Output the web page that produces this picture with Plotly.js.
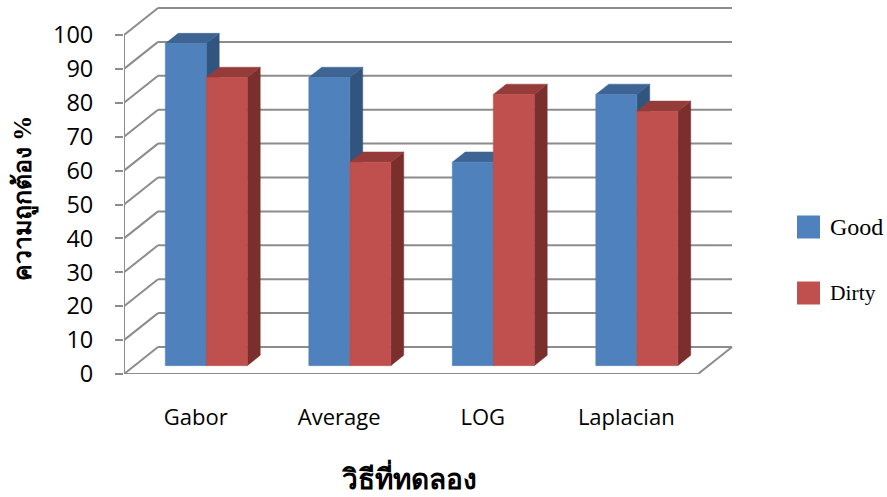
<!DOCTYPE html>
<html>
<head>
<meta charset="utf-8">
<script src="https://cdn.plot.ly/plotly-3.0.1.min.js"></script>
<style>
  html, body { margin: 0; padding: 0; background: #ffffff; }
  #chart { width: 887px; height: 497px; }
</style>
</head>
<body>
<div id="chart"></div>
<script>
// Accuracy of each detection method, clean vs. dirty samples (%)
const methods = ['Gabor', 'Average', 'LOG', 'Laplacian'];
const goodValues = [95, 85, 60, 80];
const dirtyValues = [85, 60, 80, 75];
const seriesNames = ['Good', 'Dirty'];
const yTickValues = [0, 10, 20, 30, 40, 50, 60, 70, 80, 90, 100];

// ---- geometry of the pseudo-3D box (axis units) ----
const W = 887, H = 497;
const M = { l: 124, r: 139, t: 5, b: 123 };
const PX_PER_CAT = 143.5;          // pixels per category slot
const PX_PER_UNIT = 3.39;          // pixels per percent
const plotW = W - M.l - M.r, plotH = H - M.t - M.b;
const X_MAX = plotW / PX_PER_CAT;
const Y_MAX = plotH / PX_PER_UNIT;
const DEPTH_X = 34 / PX_PER_CAT;   // receding offset of the back wall
const DEPTH_Y = 27 / PX_PER_UNIT;
const BAR_FRONT = 0.31, BAR_BACK = 0.69;  // bar depth as fraction of the box
const BAR_W = 1 / 3.5;             // bar width (gap width 150%)

const GRID = '#8c8c8c';
const palette = {
  Good:  { front: '#4f81bd', top: '#3d6493', side: '#32557f' },
  Dirty: { front: '#c0504d', top: '#953c3a', side: '#7a2f2d' }
};

// ---- walls, floor and gridlines ----
const shapes = [];
function seg(x0, y0, x1, y1) {
  shapes.push({ type: 'line', xref: 'x', yref: 'y', x0, y0, x1, y1, layer: 'below',
                line: { color: GRID, width: 2 } });
}
const nCat = methods.length;
yTickValues.forEach(v => {
  seg(0, v, DEPTH_X, v + DEPTH_Y);                       // side wall
  seg(DEPTH_X, v + DEPTH_Y, nCat + DEPTH_X, v + DEPTH_Y); // back wall
});
seg(0, 0, 0, yTickValues[yTickValues.length - 1]);        // front value axis
seg(0, 0, nCat, 0);                                       // floor front edge
seg(nCat, 0, nCat + DEPTH_X, DEPTH_Y);                    // floor right edge

// ---- 3D bars built from the value arrays ----
const traces = [];
function face(xs, ys, color) {
  traces.push({
    type: 'scatter', mode: 'lines', x: xs.concat([xs[0]]), y: ys.concat([ys[0]]),
    fill: 'toself', fillcolor: color, line: { width: 0.5, color: color },
    hoverinfo: 'skip', showlegend: false
  });
}
function bar3d(catIndex, slot, value, colors) {
  const fx = BAR_FRONT * DEPTH_X, fy = BAR_FRONT * DEPTH_Y;
  const bx = BAR_BACK * DEPTH_X, by = BAR_BACK * DEPTH_Y;
  const ddx = bx - fx, ddy = by - fy;
  const x0 = catIndex + 0.5 - BAR_W + slot * BAR_W + fx;
  const x1 = x0 + BAR_W;
  const y0 = fy, y1 = value + fy;
  // side face
  face([x1, x1 + ddx, x1 + ddx, x1], [y0, y0 + ddy, y1 + ddy, y1], colors.side);
  // top face
  face([x0, x1, x1 + ddx, x0 + ddx], [y1, y1, y1 + ddy, y1 + ddy], colors.top);
  // front face
  face([x0, x1, x1, x0], [y0, y0, y1, y1], colors.front);
}
methods.forEach((m, i) => {
  bar3d(i, 0, goodValues[i], palette.Good);
  bar3d(i, 1, dirtyValues[i], palette.Dirty);
});

// ---- legend (drawn by hand for large swatches) ----
const px2paperX = px => (px - M.l) / plotW;
const px2paperY = py => (H - M.b - py) / plotH;
const legendRows = [
  { name: seriesNames[0], color: palette.Good.front, cy: 227, size: 24 },
  { name: seriesNames[1], color: palette.Dirty.front, cy: 293, size: 21.5 }
];
const annotations = [];
legendRows.forEach(r => {
  shapes.push({ type: 'rect', xref: 'paper', yref: 'paper',
    x0: px2paperX(797), x1: px2paperX(820),
    y0: px2paperY(r.cy + 11.5), y1: px2paperY(r.cy - 11.5),
    fillcolor: r.color, line: { width: 0 } });
  annotations.push({ xref: 'paper', yref: 'paper', x: px2paperX(828), y: px2paperY(r.cy),
    xanchor: 'left', yanchor: 'middle', showarrow: false, text: r.name,
    font: { family: 'Liberation Serif, Times New Roman, serif', size: r.size, color: '#000' } });
});

// axis titles
annotations.push({ xref: 'paper', yref: 'paper', x: px2paperX(409), y: px2paperY(477),
  xanchor: 'center', yanchor: 'middle', showarrow: false, text: '<b>วิธีที่ทดลอง</b>',
  font: { family: 'Liberation Serif, serif', size: 28, color: '#000' } });
annotations.push({ xref: 'paper', yref: 'paper', x: px2paperX(24), y: px2paperY(198),
  xanchor: 'center', yanchor: 'middle', showarrow: false, textangle: -90,
  text: '<b>ความถูกต้อง %</b>',
  font: { family: 'Liberation Serif, serif', size: 25, color: '#000' } });

const layout = {
  width: W, height: H, autosize: false,
  margin: M,
  paper_bgcolor: '#ffffff', plot_bgcolor: 'rgba(0,0,0,0)',
  showlegend: false,
  xaxis: {
    range: [0, X_MAX], showgrid: false, zeroline: false, showline: false,
    tickmode: 'array', tickvals: methods.map((m, i) => i + 0.5), ticktext: methods,
    ticks: '', ticklabelstandoff: 28,
    tickfont: { family: 'Open Sans, sans-serif', size: 22, color: '#000' },
    fixedrange: true
  },
  yaxis: {
    range: [0, Y_MAX], showgrid: false, zeroline: false, showline: false,
    tickmode: 'array', tickvals: yTickValues, ticktext: yTickValues.map(String),
    ticks: 'outside', ticklen: 8, tickwidth: 2, tickcolor: GRID,
    ticklabelstandoff: 17,
    tickfont: { family: 'Open Sans, sans-serif', size: 23.5, color: '#000' },
    fixedrange: true
  },
  shapes: shapes,
  annotations: annotations
};

Plotly.newPlot('chart', traces, layout, { displayModeBar: false, staticPlot: true });
</script>
</body>
</html>
